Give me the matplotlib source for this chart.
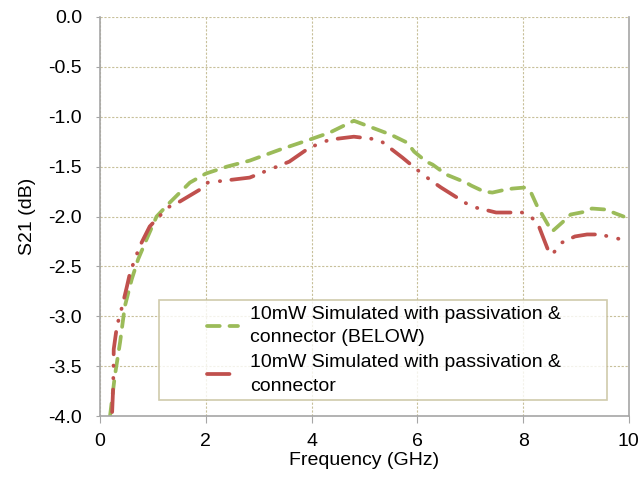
import matplotlib
matplotlib.use("Agg")
import matplotlib.pyplot as plt
from matplotlib.legend_handler import HandlerLine2D

plt.rcParams['font.family'] = ['Liberation Sans', 'DejaVu Sans']

# 10mW simulated with passivation & connector (BELOW)
freq_below = [0.19, 0.28, 0.38, 0.47, 0.60, 0.72, 0.88, 1.07, 1.32, 1.70, 2.00, 2.40,
              2.83, 3.40, 3.96, 4.34, 4.80, 5.10, 5.50, 5.81, 5.94, 6.17, 6.29, 6.55,
              6.92, 7.02, 7.26, 7.42, 7.67, 7.80, 8.02, 8.15, 8.27, 8.36, 8.49, 8.55,
              8.74, 8.90, 9.19, 9.30, 9.56, 9.75, 9.90]
s21_below = [-4.00, -3.60, -3.26, -2.90, -2.63, -2.43, -2.23, -2.00, -1.86, -1.66, -1.57, -1.50,
             -1.44, -1.33, -1.23, -1.16, -1.04, -1.10, -1.18, -1.26, -1.35, -1.45, -1.48, -1.58,
             -1.66, -1.69, -1.75, -1.76, -1.73, -1.72, -1.71, -1.76, -1.90, -1.98, -2.10, -2.15,
             -2.06, -1.98, -1.95, -1.92, -1.93, -1.97, -2.00]

# 10mW simulated with passivation & connector
freq_conn = [0.23, 0.25, 0.26, 0.32, 0.42, 0.51, 0.57, 0.75, 0.94, 1.28, 1.51, 1.89,
             2.04, 2.83, 3.58, 3.96, 4.34, 4.80, 5.28, 5.72, 6.04, 6.26, 6.45, 6.66,
             7.02, 7.26, 7.49, 7.74, 7.98, 8.15, 8.30, 8.38, 8.49, 8.55, 8.74, 8.98,
             9.21, 9.47, 9.68, 9.87, 10.0]
s21_conn = [-3.96, -3.70, -3.33, -3.10, -2.90, -2.70, -2.56, -2.30, -2.10, -1.91, -1.85, -1.73,
            -1.66, -1.61, -1.45, -1.31, -1.23, -1.20, -1.23, -1.41, -1.55, -1.64, -1.71, -1.78,
            -1.90, -1.93, -1.96, -1.96, -1.96, -2.00, -2.10, -2.21, -2.36, -2.38, -2.26, -2.20,
            -2.18, -2.18, -2.21, -2.23, -2.24]

label_below = '10mW Simulated with passivation &\nconnector (BELOW)'
label_conn = '10mW Simulated with passivation &\nconnector'


class ShiftedHandler(HandlerLine2D):
    # draw the legend sample only in the right part of the handle box
    def create_artists(self, legend, orig_handle, xdescent, ydescent,
                       width, height, fontsize, trans):
        shift = width * 0.58
        return super().create_artists(legend, orig_handle, xdescent - shift, ydescent,
                                      width - shift, height, fontsize, trans)


fig = plt.figure(figsize=(6.43, 4.8), dpi=100)
ax = fig.add_axes([0.1555, 0.1333, 0.8225, 0.8313])

line_below, = ax.plot(freq_below, s21_below, color='#9BBB59', linewidth=2.7,
                      dashes=(3.4, 2.6), dash_capstyle='round',
                      label=label_below)
line_conn, = ax.plot(freq_conn, s21_conn, color='#C0504D', linewidth=2.7,
                     dashes=(6.0, 3.0, 0.1, 3.2, 0.1, 3.0), dash_capstyle='round',
                     label=label_conn)

ax.set_xlim(0, 10)
ax.set_ylim(-4, 0)
ax.set_xticks(range(0, 11, 2))
ax.set_yticks([-4.0, -3.5, -3.0, -2.5, -2.0, -1.5, -1.0, -0.5, 0.0])
ax.set_yticklabels([f'{v:.1f}' for v in ax.get_yticks()])

ax.grid(True, color='#C8C09A', linestyle=(0, (2, 1.5)), linewidth=0.8)
ax.set_axisbelow(True)

for side in ['left', 'bottom', 'right']:
    ax.spines[side].set_color('#A6A6A6')
    ax.spines[side].set_linewidth(1.2)
ax.spines['top'].set_visible(False)

ax.tick_params(direction='out', color='#A6A6A6', labelsize=14, labelcolor='black')
ax.tick_params(axis='x', length=5, pad=7)
ax.tick_params(axis='y', length=3, pad=10)

ax.set_xlabel('Frequency (GHz)', fontsize=14, labelpad=2)
ax.set_ylabel('S21 (dB)', fontsize=14, labelpad=9)

leg = ax.legend(handler_map={line_below: ShiftedHandler(), line_conn: ShiftedHandler()},
                loc='lower left', bbox_to_anchor=(0.1115, 0.040, 0.847, 0.2),
                mode='expand', borderaxespad=0,
                fontsize=14, frameon=True, fancybox=False, edgecolor='#C4BD97',
                handlelength=3.8, handletextpad=0.6, labelspacing=0.4,
                borderpad=0.28)
leg.get_frame().set_linewidth(1.2)
for t in leg.get_texts():
    t.set_linespacing(1.5)

fig.savefig('out.png', dpi=100)
